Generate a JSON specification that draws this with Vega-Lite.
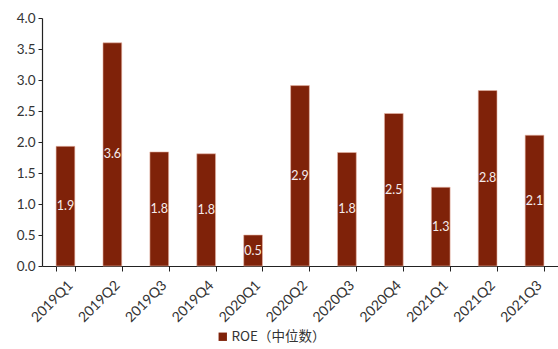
{
  "$schema": "https://vega.github.io/schema/vega-lite/v6.json",
  "width": 516,
  "height": 248,
  "autosize": {"type": "none"},
  "padding": {"left": 42, "top": 18, "right": 0, "bottom": 83},
  "background": "white",
  "config": {
    "view": {"stroke": null},
    "font": "Lato",
    "axis": {"labelFont": "Lato", "labelColor": "#333333", "domainColor": "#222222", "tickColor": "#222222", "grid": false},
    "legend": {"labelFont": "Noto Sans CJK SC"}
  },
  "data": {
    "values": [
      {"quarter": "2019Q1", "series": "ROE（中位数）", "roe": 1.93},
      {"quarter": "2019Q2", "series": "ROE（中位数）", "roe": 3.60},
      {"quarter": "2019Q3", "series": "ROE（中位数）", "roe": 1.84},
      {"quarter": "2019Q4", "series": "ROE（中位数）", "roe": 1.81},
      {"quarter": "2020Q1", "series": "ROE（中位数）", "roe": 0.50},
      {"quarter": "2020Q2", "series": "ROE（中位数）", "roe": 2.91},
      {"quarter": "2020Q3", "series": "ROE（中位数）", "roe": 1.83},
      {"quarter": "2020Q4", "series": "ROE（中位数）", "roe": 2.46},
      {"quarter": "2021Q1", "series": "ROE（中位数）", "roe": 1.27},
      {"quarter": "2021Q2", "series": "ROE（中位数）", "roe": 2.83},
      {"quarter": "2021Q3", "series": "ROE（中位数）", "roe": 2.11}
    ]
  },
  "encoding": {
    "x": {
      "field": "quarter",
      "type": "ordinal",
      "sort": null,
      "scale": {"paddingInner": 0.6, "paddingOuter": 0.3},
      "axis": {
        "title": null,
        "labelAngle": -45,
        "labelFontSize": 14,
        "labelPadding": 7,
        "tickBand": "extent",
        "tickSize": 5,
        "domainWidth": 1.2
      }
    }
  },
  "layer": [
    {
      "mark": {"type": "bar", "stroke": "#e9b9aa", "strokeWidth": 0.6},
      "encoding": {
        "y": {
          "field": "roe",
          "type": "quantitative",
          "scale": {"domain": [0, 4]},
          "axis": {
            "title": null,
            "values": [0, 0.5, 1, 1.5, 2, 2.5, 3, 3.5, 4],
            "format": ".1f",
            "labelFontSize": 13.5,
            "labelPadding": 3,
            "tickSize": 4,
            "domainWidth": 1.2
          }
        },
        "color": {
          "field": "series",
          "type": "nominal",
          "scale": {"range": ["#7f2209"]},
          "legend": {
            "title": null,
            "orient": "none",
            "legendX": 174,
            "legendY": 312,
            "symbolType": "square",
            "symbolSize": 70,
            "symbolStrokeWidth": 0,
            "labelFontSize": 13.5,
            "labelColor": "#333333",
            "labelOffset": 2
          }
        }
      }
    },
    {
      "mark": {"type": "text", "color": "#f4ecec", "fontSize": 12.5, "font": "Lato", "baseline": "middle"},
      "encoding": {
        "y": {
          "field": "roe",
          "type": "quantitative",
          "scale": {"domain": [0, 8]},
          "axis": null
        },
        "text": {"field": "roe", "type": "quantitative", "format": ".1f"}
      }
    }
  ],
  "resolve": {"scale": {"y": "independent"}}
}
